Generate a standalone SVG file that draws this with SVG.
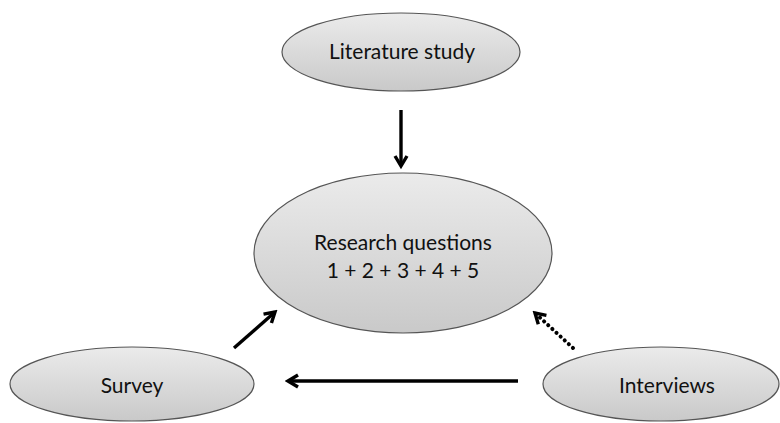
<svg xmlns="http://www.w3.org/2000/svg" width="780" height="423" viewBox="0 0 780 423">
<defs>
<linearGradient id="g" x1="0" y1="0" x2="0" y2="1">
<stop offset="0" stop-color="#ebebeb"/>
<stop offset="1" stop-color="#c9c9c9"/>
</linearGradient>
<marker id="ah" viewBox="0 0 16 16" refX="12.5" refY="8" markerWidth="16" markerHeight="16" markerUnits="userSpaceOnUse" orient="auto">
<path d="M2.5,2 L12.5,8 L2.5,14" fill="none" stroke="#000" stroke-width="3.4" stroke-linejoin="miter"/>
</marker>
</defs>
<style>
.node ellipse{stroke:#555;stroke-width:1.2}
.node text{font-family:"Lato","Open Sans","Liberation Sans",sans-serif;font-size:21px;fill:#111;text-anchor:middle}
.conn line{stroke:#000;stroke-width:3.4}
.conn .dot{stroke-dasharray:0.1 5.5;stroke-linecap:round;stroke-width:4}
</style>
<g id="literature" class="node">
<ellipse cx="401" cy="52" rx="119" ry="39" fill="url(#g)"/>
<text x="402" y="59">Literature study</text>
</g>
<g id="research" class="node">
<ellipse cx="403" cy="253" rx="149" ry="80" fill="url(#g)"/>
<text x="403" y="250">Research questions</text>
<text x="403" y="278">1 + 2 + 3 + 4 + 5</text>
</g>
<g id="survey" class="node">
<ellipse cx="132" cy="384" rx="122" ry="37" fill="url(#g)"/>
<text x="132" y="393">Survey</text>
</g>
<g id="interviews" class="node">
<ellipse cx="661" cy="384" rx="118" ry="37" fill="url(#g)"/>
<text x="667" y="393">Interviews</text>
</g>
<g class="conn" id="connectors">
<line x1="401" y1="110" x2="401" y2="166" marker-end="url(#ah)"/>
<line x1="234" y1="348" x2="275" y2="312" marker-end="url(#ah)"/>
<line x1="518" y1="381" x2="288" y2="381" marker-end="url(#ah)"/>
<line class="dot" x1="573" y1="348" x2="535" y2="313" marker-end="url(#ah)"/>
</g>
</svg>
